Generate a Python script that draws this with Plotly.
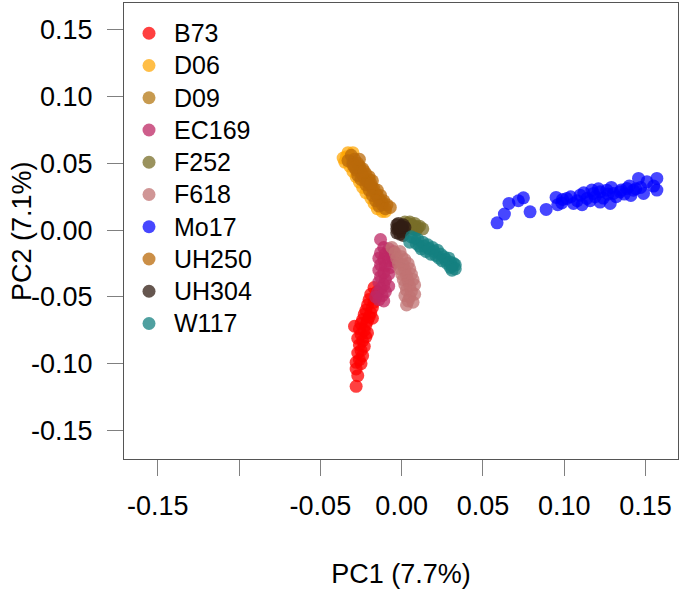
import plotly.graph_objects as go

# ---------------- data ----------------
groups = ["B73", "D06", "D09", "EC169", "F252", "F618", "Mo17", "UH250", "UH304", "W117"]

B73_x = [-0.017, -0.015, -0.019, -0.016, -0.020, -0.017, -0.021, -0.018, -0.022, -0.019, -0.023, -0.020,
         -0.024, -0.021, -0.018, -0.025, -0.022, -0.029, -0.026, -0.023, -0.021, -0.025, -0.022, -0.027,
         -0.024, -0.026, -0.023, -0.025, -0.027, -0.024, -0.026, -0.028, -0.025, -0.028, -0.027, -0.028]
B73_y = [-0.043, -0.046, -0.048, -0.050, -0.052, -0.054, -0.056, -0.058, -0.060, -0.062, -0.063, -0.065,
         -0.067, -0.068, -0.066, -0.070, -0.071, -0.072, -0.074, -0.075, -0.077, -0.078, -0.080, -0.081,
         -0.083, -0.086, -0.087, -0.090, -0.092, -0.094, -0.097, -0.099, -0.100, -0.104, -0.109, -0.117]

D06_x = [-0.034, -0.035, -0.032, -0.030, -0.028, -0.026, -0.024, -0.022, -0.019, -0.017, -0.015, -0.012,
         -0.033, -0.030, -0.010, -0.031, -0.027, -0.023, -0.020, -0.014, -0.036]
D06_y = [0.055, 0.051, 0.048, 0.044, 0.040, 0.036, 0.032, 0.028, 0.024, 0.020, 0.016, 0.014,
         0.058, 0.058, 0.014, 0.052, 0.045, 0.038, 0.030, 0.020, 0.054]

D09_x = [-0.030, -0.027, -0.024, -0.021, -0.018, -0.015, -0.012, -0.026, -0.020]
D09_y = [0.051, 0.046, 0.041, 0.036, 0.031, 0.026, 0.021, 0.048, 0.038]

EC169_x = [-0.013, -0.011, -0.008, -0.005, -0.013, -0.010, -0.006, -0.014, -0.011, -0.008, -0.004, -0.013,
           -0.010, -0.007, -0.014, -0.011, -0.008, -0.013, -0.010, -0.014, -0.011, -0.008, -0.013, -0.010,
           -0.015, -0.012, -0.014, -0.011, -0.016]
EC169_y = [-0.007, -0.013, -0.014, -0.016, -0.017, -0.018, -0.020, -0.021, -0.022, -0.023, -0.024, -0.026,
           -0.027, -0.028, -0.030, -0.032, -0.033, -0.035, -0.037, -0.039, -0.041, -0.042, -0.044, -0.046,
           -0.047, -0.049, -0.052, -0.053, -0.050]

F252_x = [0.004, 0.006, 0.008, 0.010, 0.005, 0.007, 0.009, 0.002, 0.005, 0.008, 0.011, 0.013]
F252_y = [0.005, 0.004, 0.003, 0.002, 0.002, 0.001, 0.000, 0.006, 0.006, 0.005, 0.003, 0.001]

F618_x = [-0.006, -0.004, -0.001, -0.003, 0.000, 0.002, -0.002, 0.001, 0.004, -0.001, 0.002, 0.005,
          0.000, 0.003, 0.006, 0.001, 0.004, 0.007, 0.002, 0.005, 0.008, 0.003, 0.006, 0.002, 0.005,
          0.008, 0.004, 0.007, 0.003]
F618_y = [-0.013, -0.017, -0.016, -0.021, -0.020, -0.022, -0.025, -0.026, -0.025, -0.029, -0.030, -0.029,
          -0.033, -0.034, -0.033, -0.037, -0.038, -0.037, -0.041, -0.042, -0.041, -0.045, -0.046, -0.049,
          -0.050, -0.048, -0.053, -0.054, -0.056]

Mo17_x = [0.0587, 0.0632, 0.066, 0.0718, 0.0749, 0.079, 0.0889, 0.095, 0.0985, 0.1016, 0.1057, 0.1098,
          0.1139, 0.118, 0.1221, 0.1262, 0.1303, 0.1344, 0.1385, 0.1426, 0.1283, 0.1221, 0.1457, 0.1509,
          0.157, 0.157, 0.1488, 0.155, 0.104, 0.108, 0.112, 0.116, 0.119, 0.121, 0.124, 0.127, 0.129,
          0.132, 0.135, 0.137, 0.140, 0.141, 0.144, 0.147, 0.111, 0.117, 0.099, 0.096]
Mo17_y = [0.0055, 0.012, 0.020, 0.022, 0.0242, 0.0137, 0.0155, 0.0245, 0.0204, 0.0237, 0.020, 0.0262,
          0.0237, 0.0275, 0.0287, 0.0299, 0.0275, 0.0287, 0.0312, 0.0299, 0.020, 0.021, 0.0387, 0.0362,
          0.0387, 0.030, 0.0275, 0.033, 0.025, 0.022, 0.028, 0.022, 0.025, 0.031, 0.024, 0.027, 0.032,
          0.025, 0.030, 0.027, 0.033, 0.026, 0.031, 0.032, 0.019, 0.030, 0.023, 0.019]

UH250_x = [-0.031, -0.029, -0.033, -0.027, -0.030, -0.026, -0.028, -0.024, -0.025, -0.027, -0.022, -0.023,
           -0.020, -0.025, -0.021, -0.018, -0.022, -0.019, -0.017, -0.020, -0.015, -0.016, -0.018, -0.013,
           -0.014, -0.011, -0.016, -0.012, -0.009, -0.014, -0.010, -0.007, -0.029, -0.023, -0.019, -0.026]
UH250_y = [0.056, 0.053, 0.052, 0.050, 0.049, 0.047, 0.045, 0.046, 0.043, 0.041, 0.042, 0.039,
           0.040, 0.038, 0.036, 0.037, 0.034, 0.033, 0.031, 0.030, 0.030, 0.027, 0.026, 0.026,
           0.023, 0.022, 0.022, 0.019, 0.019, 0.018, 0.016, 0.017, 0.047, 0.044, 0.035, 0.053]

UH304_x = [-0.003, -0.002, 0.000, 0.001, -0.003, -0.001, 0.001, -0.002, 0.000, 0.002, -0.003, -0.001, 0.001]
UH304_y = [0.004, 0.001, 0.003, 0.000, -0.002, -0.003, -0.004, 0.005, -0.001, 0.002, 0.001, 0.002, 0.004]

W117_x = [0.006, 0.005, 0.008, 0.009, 0.010, 0.011, 0.013, 0.012, 0.014, 0.016, 0.015, 0.017, 0.019,
          0.018, 0.020, 0.021, 0.022, 0.023, 0.024, 0.026, 0.025, 0.027, 0.028, 0.029, 0.030, 0.031,
          0.032, 0.030, 0.033, 0.031, 0.033]
W117_y = [-0.005, -0.009, -0.006, -0.010, -0.007, -0.012, -0.009, -0.014, -0.012, -0.011, -0.016, -0.014,
          -0.013, -0.018, -0.016, -0.019, -0.015, -0.021, -0.018, -0.020, -0.023, -0.022, -0.025, -0.021,
          -0.024, -0.027, -0.025, -0.028, -0.026, -0.030, -0.029]

xs = [B73_x, D06_x, D09_x, EC169_x, F252_x, F618_x, Mo17_x, UH250_x, UH304_x, W117_x]
ys = [B73_y, D06_y, D09_y, EC169_y, F252_y, F618_y, Mo17_y, UH250_y, UH304_y, W117_y]

colors = ["rgba(255,0,0,0.75)", "rgba(255,165,0,0.72)", "rgba(180,120,20,0.75)", "rgba(190,40,100,0.75)",
          "rgba(120,110,40,0.75)", "rgba(192,115,115,0.75)", "rgba(0,0,255,0.72)", "rgba(185,105,10,0.75)",
          "rgba(50,30,20,0.75)", "rgba(20,128,128,0.75)"]

x_tickvals = [-0.15, -0.10, -0.05, 0.00, 0.05, 0.10, 0.15]
x_ticktext = ["-0.15", "", "-0.05", "0.00", "0.05", "0.10", "0.15"]
y_tickvals = [-0.15, -0.10, -0.05, 0.00, 0.05, 0.10, 0.15]
y_ticktext = ["-0.15", "-0.10", "-0.05", "0.00", "0.05", "0.10", "0.15"]

FONT = "Liberation Sans, Arial, sans-serif"
FS = 27
LEG_FS = 22.5

fig = go.Figure()
for name, x, y, c in zip(groups, xs, ys, colors):
    fig.add_trace(go.Scatter(x=x, y=y, mode="markers",
                             name='<span style="font-size:25px">' + name + '</span>',
                             marker=dict(size=13, color=c, line=dict(width=0))))

axis_common = dict(showline=True, mirror=True, linecolor="#555555", linewidth=1,
                   ticks="outside", ticklen=16, tickcolor="#808080", tickwidth=1,
                   showgrid=False, zeroline=False, automargin=False,
                   tickfont=dict(family=FONT, size=FS, color="black"))

fig.update_xaxes(range=[-0.1708, 0.170], tickvals=x_tickvals, ticktext=x_ticktext,
                 title=dict(text="PC1 (7.7%)", font=dict(family=FONT, size=FS, color="black"), standoff=43),
                 ticklabelstandoff=7, **axis_common)
fig.update_yaxes(range=[-0.1714, 0.1701], tickvals=y_tickvals, ticktext=y_ticktext,
                 ticklabelstandoff=9, **axis_common)

fig.add_annotation(text="PC2 (7.1%)", xref="paper", yref="paper", x=-0.184, y=0.5,
                   xanchor="center", yanchor="middle", textangle=-90, showarrow=False,
                   font=dict(family=FONT, size=FS, color="black"))

fig.update_layout(
    width=681, height=589,
    margin=dict(l=124, r=3, t=3, b=130, autoexpand=False),
    plot_bgcolor="white", paper_bgcolor="white",
    font=dict(family=FONT, size=FS, color="black"),
    legend=dict(x=0.0, y=0.98, xanchor="left", yanchor="top", bgcolor="rgba(0,0,0,0)",
                font=dict(family=FONT, size=LEG_FS, color="black"), itemwidth=40,
                tracegroupgap=0),
)

fig.write_html("out.html", config={"displayModeBar": False},
               post_script="document.body.style.margin='0';")
